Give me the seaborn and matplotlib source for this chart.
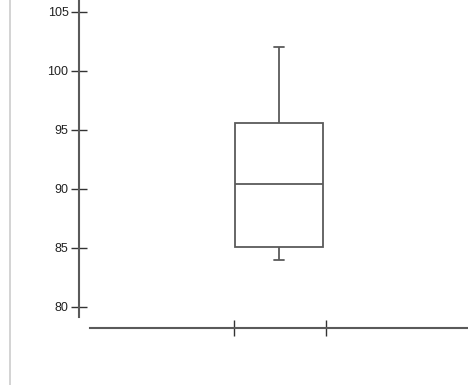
import matplotlib
matplotlib.use('Agg')
import matplotlib.pyplot as plt
from matplotlib.lines import Line2D
import seaborn as sns

# values (min, q1, median, q3, max)
scores = [84.0, 85.1, 90.4, 95.6, 102.0]
y_ticks = [80, 85, 90, 95, 100, 105]

sns.set_style('white')
plt.rcParams['font.family'] = ['Liberation Sans', 'DejaVu Sans']

fig = plt.figure(figsize=(4.68, 3.85), dpi=100)
ax = fig.add_axes([90/468, 68/385, 378/468, 317/385])

line_col = '#5a5a5a'
sns.boxplot(y=scores, ax=ax, width=0.8, color='white', linecolor=line_col,
            linewidth=1.3, whis=1.5, capwidths=0.09)

ax.set_xlim(-1.718, 1.718)
ax.set_ylim(79.15, 106.0)
ax.set_yticks(y_ticks)
ax.set_xticks([-0.41, 0.43])
ax.set_xticklabels(['', ''])
ax.set_ylabel('')
ax.set_xlabel('')

sns.despine(ax=ax, offset=8)
for side in ['left', 'bottom']:
    ax.spines[side].set_color(line_col)
    ax.spines[side].set_linewidth(1.5)
ax.tick_params(axis='both', left=True, bottom=True, direction='inout',
               length=11, width=1.0, color='#333333', labelsize=9,
               labelcolor='#222222', pad=2)

# thin gray frame line on the left edge
fig.add_artist(Line2D([10/468, 10/468], [0, 1], color='#cccccc', lw=1.2))

fig.savefig('out.png', dpi=100)
